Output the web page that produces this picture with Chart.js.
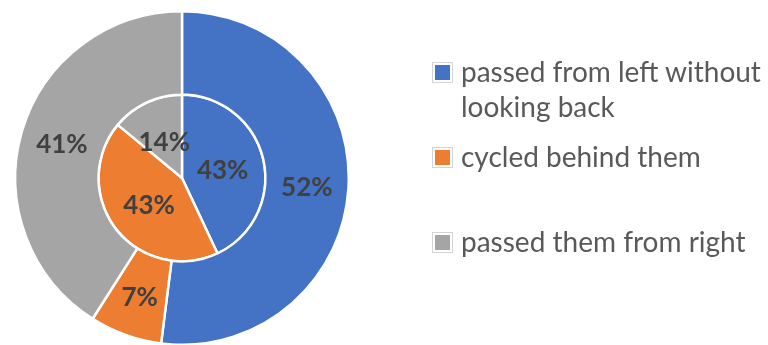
<!DOCTYPE html>
<html>
<head>
<meta charset="utf-8">
<script src="https://cdn.jsdelivr.net/npm/chart.js@4/dist/chart.umd.min.js"></script>
<style>
  html, body { margin: 0; padding: 0; background: #fff; overflow: hidden; }
  #wrap { position: relative; width: 768px; height: 350px; }
  #legend { position: absolute; left: 432px; top: 0; width: 336px; font-family: Lato, "Open Sans", sans-serif; font-size: 28px; line-height: 35px; color: #595959; }
  .item { position: absolute; left: 0; display: flex; align-items: flex-start; }
  .box { margin-top: 8px; width: 15px; height: 15px; padding: 2px; border: 1px solid #d4d4d4; background-clip: content-box; flex: none; }
  .txt { margin-left: 8px; width: 305px; }
</style>
</head>
<body>
<div id="wrap">
  <canvas id="chart" width="768" height="350"></canvas>
  <div id="legend"></div>
</div>
<script>
const categories = ['passed from left without looking back', 'cycled behind them', 'passed them from right'];
const outerValues = [52, 7, 41];
const innerValues = [43, 43, 14];
const colors = ['#4472C4', '#ED7D31', '#A5A5A5'];
const legendTops = [54, 139, 224];

// percentage labels in the middle of each slice
const sliceLabels = {
    id: 'sliceLabels',
    afterDatasetsDraw(chart) {
        const ctx = chart.ctx;
        ctx.save();
        ctx.font = 'bold 26px Lato, "Open Sans", sans-serif';
        ctx.fillStyle = '#404040';
        ctx.textAlign = 'center';
        ctx.textBaseline = 'middle';
        chart.data.datasets.forEach((ds, i) => {
            chart.getDatasetMeta(i).data.forEach((arc, j) => {
                const p = arc.getCenterPoint();
                // digits sit a little high with 'middle', nudge down
                ctx.fillText(ds.data[j] + '%', p.x, p.y + 2);
            });
        });
        ctx.restore();
    }
};

const chart = document.querySelector('canvas#chart');

new Chart(chart, {
    type: 'doughnut',
    data: {
        labels: categories,
        datasets: [{
            data: outerValues,
            backgroundColor: colors,
            borderColor: '#ffffff',
            borderWidth: 2.5
        }, {
            data: innerValues,
            backgroundColor: colors,
            borderColor: '#ffffff',
            borderWidth: 2.5
        }]
    },
    options: {
        responsive: false,
        animation: false,
        cutout: 0,
        layout: { padding: { left: 14, top: 10, right: 418, bottom: 4 } },
        plugins: {
            legend: { display: false },
            tooltip: { enabled: false }
        }
    },
    plugins: [sliceLabels]
});

const legend = document.getElementById('legend');
categories.forEach((name, i) => {
    const item = document.createElement('div');
    item.className = 'item';
    item.style.top = legendTops[i] + 'px';
    const box = document.createElement('div');
    box.className = 'box';
    box.style.backgroundColor = colors[i];
    const txt = document.createElement('div');
    txt.className = 'txt';
    txt.textContent = name;
    item.appendChild(box);
    item.appendChild(txt);
    legend.appendChild(item);
});
</script>
</body>
</html>
